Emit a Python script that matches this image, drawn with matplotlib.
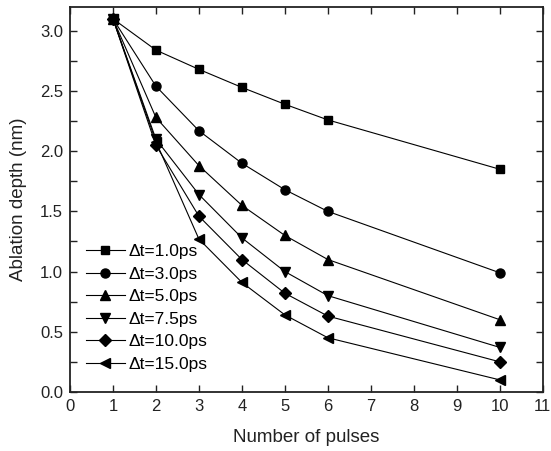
import matplotlib.pyplot as plt
from matplotlib.ticker import MultipleLocator

plt.rcParams['font.family'] = 'Liberation Sans'

# Ablation depth versus pulse number for several pulse delays
pulses = [1, 2, 3, 4, 5, 6, 10]
depth_1p0 = [3.10, 2.84, 2.68, 2.53, 2.39, 2.26, 1.85]
depth_3p0 = [3.10, 2.54, 2.17, 1.90, 1.68, 1.50, 0.99]
depth_5p0 = [3.10, 2.28, 1.88, 1.55, 1.30, 1.10, 0.60]
depth_7p5 = [3.10, 2.10, 1.64, 1.28, 1.00, 0.80, 0.37]
depth_10p0 = [3.10, 2.05, 1.46, 1.10, 0.82, 0.63, 0.25]
depth_15p0 = [3.10, 2.08, 1.27, 0.91, 0.64, 0.45, 0.10]
labels = ['\u0394t=1.0ps', '\u0394t=3.0ps', '\u0394t=5.0ps',
          '\u0394t=7.5ps', '\u0394t=10.0ps', '\u0394t=15.0ps']

series = [depth_1p0, depth_3p0, depth_5p0, depth_7p5, depth_10p0, depth_15p0]
markers = ['s', 'o', '^', 'v', 'D', '<']
sizes = [6, 6.5, 7.5, 7.5, 6, 7.5]

fig = plt.figure(figsize=(5.51, 4.51), dpi=100)
ax = fig.add_axes([0.127, 0.131, 0.858, 0.854])

for y, m, ms, lab in zip(series, markers, sizes, labels):
    ax.plot(pulses, y, color='black', lw=0.8, marker=m, markersize=ms,
            markerfacecolor='black', markeredgecolor='black', label=lab)

ax.set_xlim(0, 11)
ax.set_ylim(0, 3.2)
ax.xaxis.set_major_locator(MultipleLocator(1))
ax.yaxis.set_major_locator(MultipleLocator(0.5))
ax.yaxis.set_minor_locator(MultipleLocator(0.25))
ax.yaxis.set_major_formatter(plt.FormatStrFormatter('%.1f'))
ax.tick_params(which='both', direction='in', top=True, right=True,
               labelsize=12, width=1, pad=5, colors='#222222')
ax.tick_params(which='major', length=5)
ax.tick_params(which='minor', length=5)
for s in ax.spines.values():
    s.set_linewidth(1.3)
    s.set_color('#222222')

ax.set_xlabel('Number of pulses', fontsize=13.5, labelpad=11, color='#222222')
ax.set_ylabel('Ablation depth (nm)', fontsize=13.5, labelpad=9, color='#222222')

ax.legend(loc='lower left', bbox_to_anchor=(0.0, 0.012), frameon=False,
          fontsize=12.5, handlelength=2.25, handletextpad=0.2,
          labelspacing=0.42, borderaxespad=0.5)

fig.savefig('out.png', dpi=100)
